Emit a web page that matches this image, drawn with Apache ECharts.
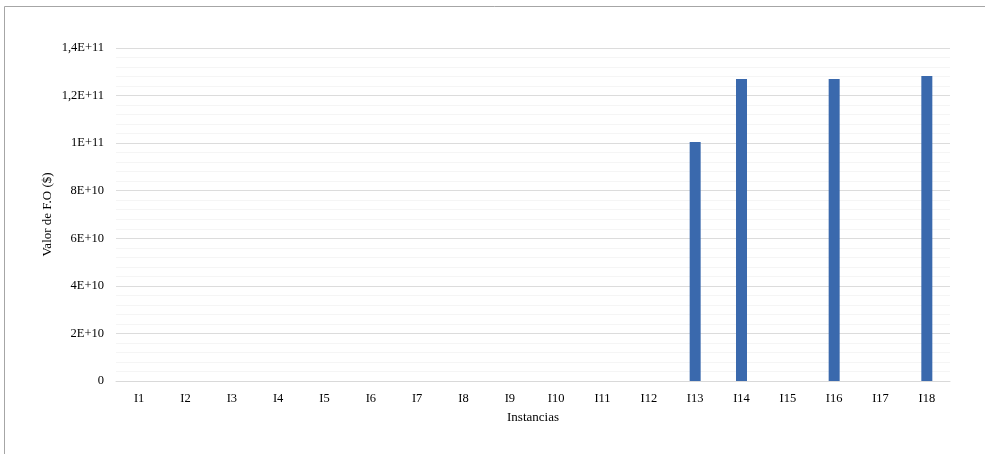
<!DOCTYPE html>
<html>
<head>
<meta charset="utf-8">
<script src="https://cdn.jsdelivr.net/npm/echarts@6/dist/echarts.min.js"></script>
<style>
  html, body { margin: 0; padding: 0; background: #ffffff; }
  #chart { width: 985px; height: 454px; }
</style>
</head>
<body>
<div id="chart"></div>
<script>
// Instances and objective-function values
const categories = ['I1','I2','I3','I4','I5','I6','I7','I8','I9','I10','I11','I12','I13','I14','I15','I16','I17','I18'];
const foValues = [0, 0, 0, 0, 0, 0, 0, 0, 0, 0, 0, 0, 1.005e11, 1.27e11, 0, 1.27e11, 0, 1.282e11];
const yTickLabels = ['0', '2E+10', '4E+10', '6E+10', '8E+10', '1E+11', '1,2E+11', '1,4E+11'];
const yStep = 2e10;

const font = '"Liberation Serif", "Times New Roman", serif';
const chart = echarts.init(document.getElementById('chart'), null, { renderer: 'canvas' });

chart.setOption({
  backgroundColor: '#ffffff',
  animation: false,
  graphic: [
    { type: 'line', shape: { x1: 4.5, y1: 6.5, x2: 985, y2: 6.5 }, style: { stroke: '#a6a6a6', lineWidth: 1 } },
    { type: 'line', shape: { x1: 4.5, y1: 6.5, x2: 4.5, y2: 454 }, style: { stroke: '#a6a6a6', lineWidth: 1 } }
  ],
  grid: { left: 116, right: 35, top: 48, bottom: 73 },
  xAxis: {
    type: 'category',
    data: categories,
    name: 'Instancias',
    nameLocation: 'middle',
    nameGap: 30,
    nameTextStyle: { fontFamily: font, fontSize: 13, color: '#000' },
    axisLine: { lineStyle: { color: '#d9d9d9', width: 1 } },
    axisTick: { show: false },
    axisLabel: { fontFamily: font, fontSize: 12.5, color: '#000', margin: 11 }
  },
  yAxis: {
    type: 'value',
    min: 0,
    max: 1.4e11,
    interval: yStep,
    name: 'Valor de F.O ($)',
    nameLocation: 'middle',
    nameGap: 62,
    nameMoveOverlap: false,
    nameRotate: 90,
    nameTextStyle: { fontFamily: font, fontSize: 13, color: '#000' },
    axisLine: { show: false },
    axisTick: { show: false },
    axisLabel: {
      fontFamily: font, fontSize: 12.5, color: '#000', margin: 12,
      formatter: v => yTickLabels[Math.round(v / yStep)]
    },
    splitLine: { lineStyle: { color: '#dcdcdc', width: 1 } },
    minorTick: { show: false, splitNumber: 5 },
    minorSplitLine: { show: true, lineStyle: { color: '#f5f5f5', width: 1 } }
  },
  series: [{
    type: 'bar',
    data: foValues,
    barWidth: 11,
    itemStyle: { color: '#3a69ad' }
  }]
});
</script>
</body>
</html>
